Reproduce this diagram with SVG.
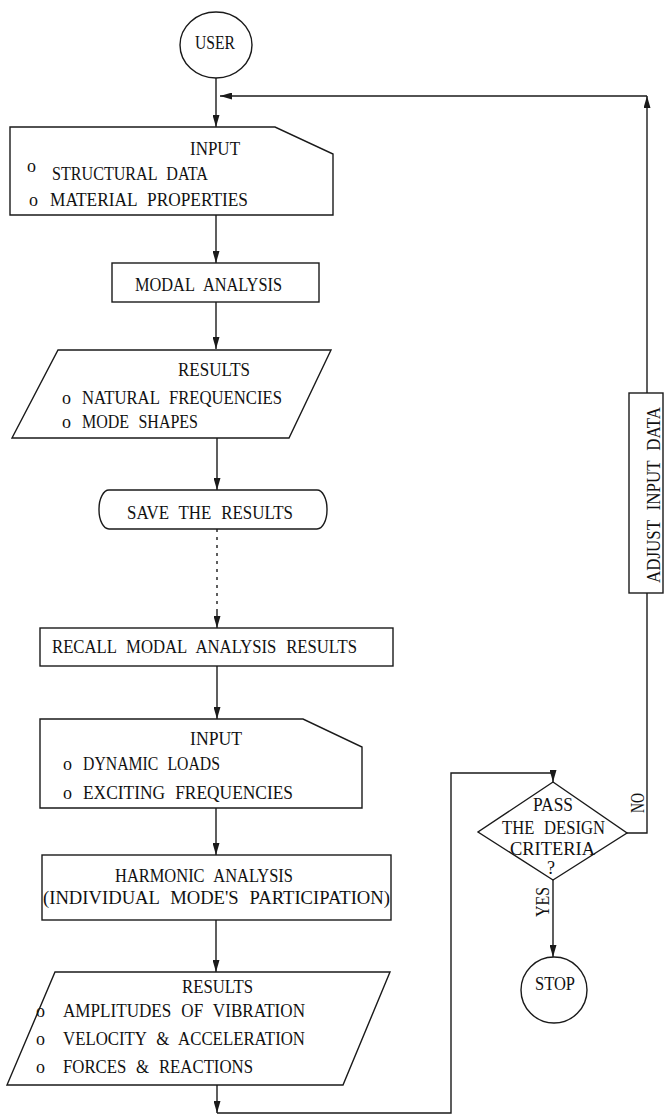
<svg xmlns="http://www.w3.org/2000/svg" width="664" height="1116" viewBox="0 0 664 1116">
<style>
.s{fill:#fff;stroke:#1a1a1a;stroke-width:1.4}
.c{fill:none;stroke:#1a1a1a;stroke-width:1.4}
.d{fill:none;stroke:#1a1a1a;stroke-width:1.4;stroke-dasharray:3 5}
text{font-family:"Liberation Serif","Times New Roman",serif;font-size:18px;fill:#111;word-spacing:6px}
</style>
<defs>
<marker id="a" markerUnits="userSpaceOnUse" markerWidth="12" markerHeight="7" refX="12" refY="3.5" orient="auto">
<path d="M0,0 L12,3.5 L0,7 Z" fill="#1a1a1a"/>
</marker>
</defs>
<rect width="664" height="1116" fill="#fff"/>
<g id="connectors">
<line class="c" x1="216" y1="78" x2="216" y2="127" marker-end="url(#a)"/>
<line class="c" x1="647" y1="393" x2="647" y2="96" marker-end="url(#a)"/>
<line class="c" x1="647" y1="96" x2="220" y2="96" marker-end="url(#a)"/>
<line class="c" x1="216" y1="215" x2="216" y2="263" marker-end="url(#a)"/>
<line class="c" x1="216" y1="302" x2="216" y2="349" marker-end="url(#a)"/>
<line class="c" x1="217" y1="438" x2="217" y2="490" marker-end="url(#a)"/>
<line class="d" x1="217" y1="529" x2="217" y2="612"/>
<line class="c" x1="217" y1="612" x2="217" y2="628" marker-end="url(#a)"/>
<line class="c" x1="217" y1="666" x2="217" y2="719" marker-end="url(#a)"/>
<line class="c" x1="216" y1="808" x2="216" y2="855" marker-end="url(#a)"/>
<line class="c" x1="216" y1="920" x2="216" y2="972" marker-end="url(#a)"/>
<line class="c" x1="217" y1="1085" x2="217" y2="1113" marker-end="url(#a)"/>
<polyline class="c" points="217,1113 451,1113 451,773 553,773 553,782" marker-end="url(#a)"/>
<polyline class="c" points="627,833 647,833 647,593"/>
<line class="c" x1="553" y1="880" x2="553" y2="957" marker-end="url(#a)"/>
<text transform="translate(644,803) rotate(-90)" text-anchor="middle" textLength="20" lengthAdjust="spacingAndGlyphs">NO</text>
<text transform="translate(549,902) rotate(-90)" text-anchor="middle" textLength="30" lengthAdjust="spacingAndGlyphs">YES</text>
</g>
<g id="user">
<ellipse class="s" cx="216" cy="45" rx="36" ry="33"/>
<text x="195" y="49" textLength="40" lengthAdjust="spacingAndGlyphs">USER</text>
</g>
<g id="input1">
<path class="s" d="M10,127 H275 L333,154 V215 H10 Z"/>
<text x="190" y="155" textLength="50" lengthAdjust="spacingAndGlyphs">INPUT</text>
<text x="27" y="172" font-size="13">o</text>
<text x="52" y="180" textLength="156" lengthAdjust="spacingAndGlyphs">STRUCTURAL DATA</text>
<text x="29" y="206">o</text>
<text x="50" y="206" textLength="198" lengthAdjust="spacingAndGlyphs">MATERIAL PROPERTIES</text>
</g>
<g id="modal">
<rect class="s" x="112" y="263" width="207" height="39"/>
<text x="135" y="291" textLength="147" lengthAdjust="spacingAndGlyphs">MODAL ANALYSIS</text>
</g>
<g id="results1">
<path class="s" d="M58,350 H331 L289,438 H12 Z"/>
<text x="178" y="376" textLength="72" lengthAdjust="spacingAndGlyphs">RESULTS</text>
<text x="62" y="404">o</text>
<text x="82" y="404" textLength="200" lengthAdjust="spacingAndGlyphs">NATURAL FREQUENCIES</text>
<text x="62" y="428">o</text>
<text x="82" y="428" textLength="116" lengthAdjust="spacingAndGlyphs">MODE SHAPES</text>
</g>
<g id="save">
<rect class="s" x="99" y="490" width="228" height="39" rx="10" ry="19"/>
<text x="127" y="519" textLength="166" lengthAdjust="spacingAndGlyphs">SAVE THE RESULTS</text>
</g>
<g id="recall">
<rect class="s" x="40" y="628" width="353" height="38"/>
<text x="52" y="653" textLength="305" lengthAdjust="spacingAndGlyphs">RECALL MODAL ANALYSIS RESULTS</text>
</g>
<g id="input2">
<path class="s" d="M40,719 H303 L362,747 V808 H40 Z"/>
<text x="190" y="745" textLength="52" lengthAdjust="spacingAndGlyphs">INPUT</text>
<text x="63" y="770">o</text>
<text x="83" y="770" textLength="137" lengthAdjust="spacingAndGlyphs">DYNAMIC LOADS</text>
<text x="63" y="799">o</text>
<text x="83" y="799" textLength="210" lengthAdjust="spacingAndGlyphs">EXCITING FREQUENCIES</text>
</g>
<g id="harmonic">
<rect class="s" x="42" y="855" width="349" height="65"/>
<text x="115" y="882" textLength="178" lengthAdjust="spacingAndGlyphs">HARMONIC ANALYSIS</text>
<text x="43" y="904" textLength="347" lengthAdjust="spacingAndGlyphs">(INDIVIDUAL MODE'S PARTICIPATION)</text>
</g>
<g id="results2">
<path class="s" d="M55,972 H390 L343,1085 H7 Z"/>
<text x="182" y="993" textLength="71" lengthAdjust="spacingAndGlyphs">RESULTS</text>
<text x="36" y="1017">o</text>
<text x="63" y="1017" textLength="242" lengthAdjust="spacingAndGlyphs">AMPLITUDES OF VIBRATION</text>
<text x="36" y="1045">o</text>
<text x="63" y="1045" textLength="242" lengthAdjust="spacingAndGlyphs">VELOCITY &amp; ACCELERATION</text>
<text x="36" y="1073">o</text>
<text x="63" y="1073" textLength="190" lengthAdjust="spacingAndGlyphs">FORCES &amp; REACTIONS</text>
</g>
<g id="decision">
<path class="s" d="M553,782 L627,833 L553,880 L478,832 Z"/>
<text x="533" y="811" textLength="40" lengthAdjust="spacingAndGlyphs">PASS</text>
<text x="502" y="834" textLength="103" lengthAdjust="spacingAndGlyphs">THE DESIGN</text>
<text x="510" y="855" textLength="85" lengthAdjust="spacingAndGlyphs">CRITERIA</text>
<text x="547" y="874">?</text>
</g>
<g id="adjust">
<rect class="s" x="629" y="393" width="34" height="200"/>
<text transform="translate(660,495) rotate(-90)" text-anchor="middle" textLength="176" lengthAdjust="spacingAndGlyphs">ADJUST INPUT DATA</text>
</g>
<g id="stop">
<ellipse class="s" cx="554" cy="990" rx="33" ry="33"/>
<text x="535" y="990" textLength="40" lengthAdjust="spacingAndGlyphs">STOP</text>
</g>
</svg>
